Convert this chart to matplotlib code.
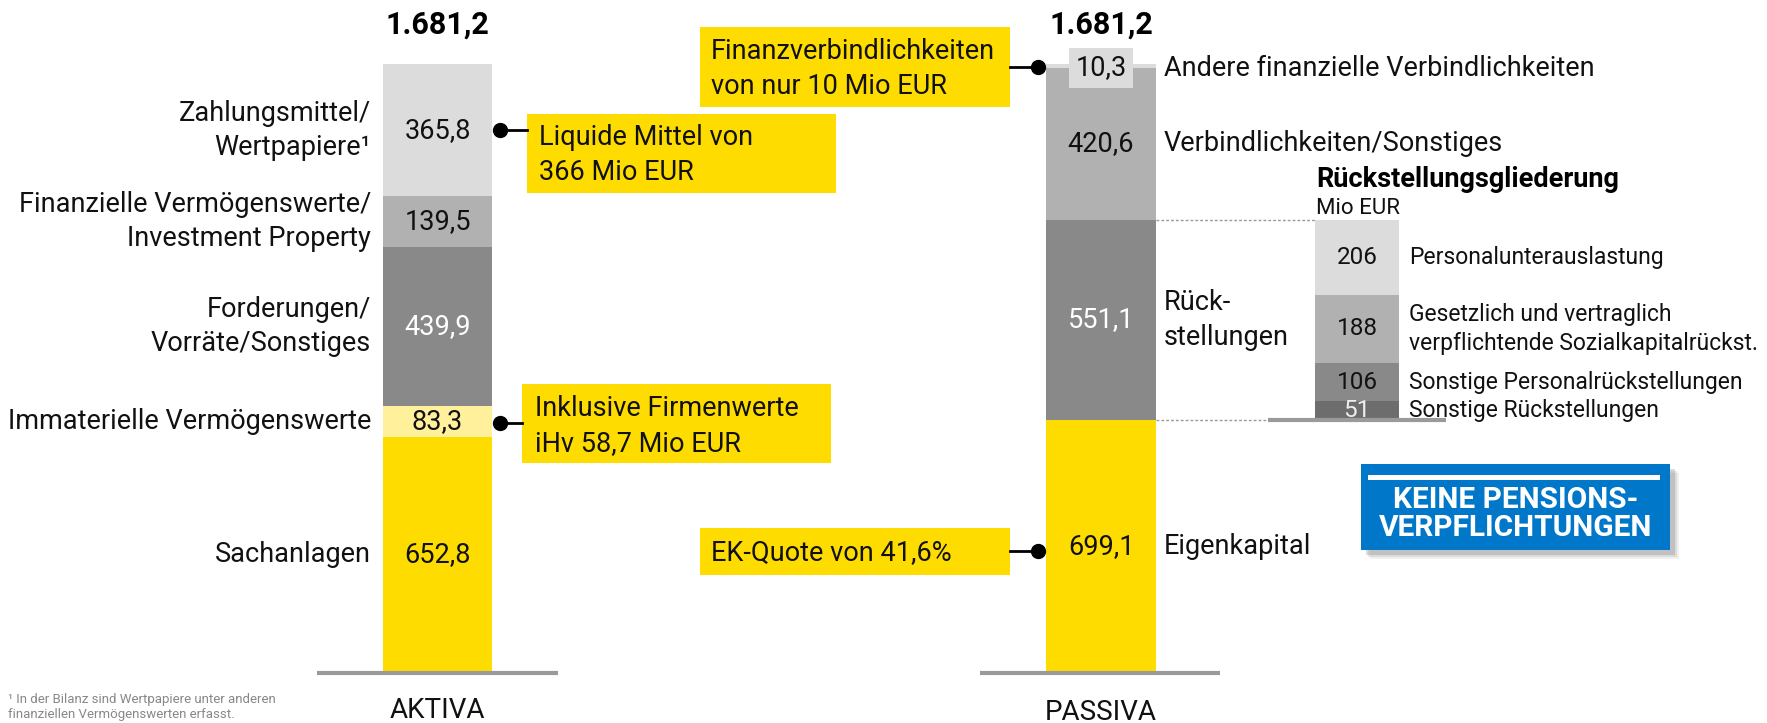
import matplotlib.pyplot as plt
from matplotlib.patches import Rectangle

plt.rcParams['font.family'] = ['Roboto', 'DejaVu Sans']

# Data (Mio EUR), stacked from bottom to top
balance_total = 1681.2
aktiva_labels = ['Sachanlagen', 'Immaterielle Vermögenswerte', 'Forderungen/\nVorräte/Sonstiges',
                 'Finanzielle Vermögenswerte/\nInvestment Property', 'Zahlungsmittel/\nWertpapiere¹']
aktiva_values = [652.8, 83.3, 439.9, 139.5, 365.8]
passiva_labels = ['Eigenkapital', 'Rück-\nstellungen', 'Verbindlichkeiten/Sonstiges',
                  'Andere finanzielle Verbindlichkeiten']
passiva_values = [699.1, 551.1, 420.6, 10.3]
rueck_labels = ['Sonstige Rückstellungen', 'Sonstige Personalrückstellungen',
                'Gesetzlich und vertraglich\nverpflichtende Sozialkapitalrückst.', 'Personalunterauslastung']
rueck_values = [51, 106, 188, 206]

YELLOW = '#ffdc00'
aktiva_colors = [YELLOW, '#fff09c', '#898989', '#b1b1b1', '#dcdcdc']
aktiva_txt = ['#111111', '#111111', 'white', '#111111', '#111111']
passiva_colors = [YELLOW, '#898989', '#b1b1b1', '#dcdcdc']
passiva_txt = ['#111111', 'white', '#111111', '#111111']
rueck_colors = ['#6d6d6d', '#898989', '#b1b1b1', '#dcdcdc']
rueck_txt = ['#eeeeee', '#111111', '#111111', '#111111']

FS = 19.5      # labels / callouts
FS_VAL = 19.5  # values in bars
LS = 1.35


def fmt(v, dec=1):
    s = f'{v:,.{dec}f}'
    return s.replace(',', 'X').replace('.', ',').replace('X', '.')


fig = plt.figure(figsize=(17.67, 7.23), dpi=100)
ax = fig.add_axes([0, 0, 1, 1])
ax.axis('off')

# pixel layout: baseline at y=673px, total at y=64px
base_px, top_px = 673, 64
k = (base_px - top_px) / balance_total
ax.set_xlim(0, 1767)
ax.set_ylim(-(723 - base_px) / k, base_px / k)


def yd(p):
    return (base_px - p) / k


def stack(x, w, values, colors, txtcols, fs, fmt_dec=1, skip_last=False):
    bottoms = []
    b = 0
    for v in values:
        bottoms.append(b)
        b += v
    ax.bar([x] * len(values), values, bottom=bottoms, width=w, color=colors, linewidth=0)
    for i, (v, b0) in enumerate(zip(values, bottoms)):
        if skip_last and i == len(values) - 1:
            continue
        ax.text(x, b0 + v / 2, fmt(v, fmt_dec), ha='center', va='center', fontsize=fs, color=txtcols[i])
    return bottoms


# AKTIVA
ax_x, pa_x, rk_x = 437.5, 1101, 1357
bot_a = stack(ax_x, 109, aktiva_values, aktiva_colors, aktiva_txt, FS_VAL)
for lab, v, b0 in zip(aktiva_labels, aktiva_values, bot_a):
    ax.text(371, b0 + v / 2, lab, ha='right', va='center', fontsize=FS, linespacing=LS, color='#111111')
ax.text(ax_x, yd(25), fmt(balance_total), ha='center', va='center', fontsize=22, fontweight='bold')
ax.plot([317, 558], [0, 0], color='#9a9a9a', lw=3, solid_capstyle='butt')
ax.text(ax_x, yd(710), 'AKTIVA', ha='center', va='center', fontsize=20, color='#111111')

# PASSIVA
bot_p = stack(pa_x, 110, passiva_values, passiva_colors, passiva_txt, FS_VAL, skip_last=True)
ax.text(pa_x, yd(68), fmt(passiva_values[-1]), ha='center', va='center', fontsize=FS_VAL, color='#111111',
        bbox=dict(boxstyle='square,pad=0.25', fc='#dcdcdc', ec='none'))
label_y = [b0 + v / 2 for v, b0 in zip(passiva_values, bot_p)]
label_y[-1] = yd(68)
for lab, y in zip(passiva_labels, label_y):
    ax.text(1164, y, lab, ha='left', va='center', fontsize=FS, linespacing=LS, color='#111111')
ax.text(pa_x, yd(25), fmt(balance_total), ha='center', va='center', fontsize=22, fontweight='bold')
ax.plot([980, 1220], [0, 0], color='#9a9a9a', lw=3, solid_capstyle='butt')
ax.text(pa_x, yd(712), 'PASSIVA', ha='center', va='center', fontsize=20, color='#111111')

# Rückstellungsgliederung, aligned with the Rückstellungen segment
r0 = passiva_values[0]
rb = r0
rbots = []
for v in rueck_values:
    rbots.append(rb)
    rb += v
ax.bar([rk_x] * len(rueck_values), rueck_values, bottom=rbots, width=84, color=rueck_colors, linewidth=0)
for v, b0, c, lab in zip(rueck_values, rbots, rueck_txt, rueck_labels):
    ax.text(rk_x, b0 + v / 2, fmt(v, 0), ha='center', va='center', fontsize=17.5, color=c)
    ax.text(1409, b0 + v / 2, lab, ha='left', va='center', fontsize=16.5, linespacing=1.3, color='#111111')
ax.plot([1268, 1446], [r0, r0], color='#9a9a9a', lw=3, solid_capstyle='butt')
ax.plot([pa_x + 55, 1315], [r0 + passiva_values[1]] * 2, color='#999999', lw=1, ls=(0, (2, 1.5)))
ax.plot([pa_x + 55, 1268], [r0, r0], color='#999999', lw=1, ls=(0, (2, 1.5)))
ax.text(1316, yd(180), 'Rückstellungsgliederung', ha='left', va='center', fontsize=19.5, fontweight='bold')
ax.text(1316, yd(209), 'Mio EUR', ha='left', va='center', fontsize=16, color='#111111')

# yellow callouts: (x0, x1, y0, y1) in px, text x, text y, dot x, dot y
callouts = [
    ((527, 836, 114, 193), 539, 155, 'Liquide Mittel von\n366 Mio EUR', 500, 130),
    ((522, 831, 384, 463), 535, 426, 'Inklusive Firmenwerte\niHv 58,7 Mio EUR', 500, 423),
    ((700, 1010, 27, 107), 711, 69, 'Finanzverbindlichkeiten\nvon nur 10 Mio EUR', 1038, 67),
    ((700, 1010, 528, 575), 711, 553, 'EK-Quote von 41,6%', 1038, 551),
]
for (x0, x1, y0, y1), tx, ty, txt, dx, dy in callouts:
    ax.add_patch(Rectangle((x0, yd(y1)), x1 - x0, yd(y0) - yd(y1), fc=YELLOW, ec='none', zorder=3))
    ax.text(tx, yd(ty), txt, ha='left', va='center', fontsize=FS, linespacing=LS, color='#111111', zorder=4)
    edge = x0 if dx < x0 else x1
    ax.plot([dx, edge], [yd(dy), yd(dy)], color='black', lw=2, zorder=4)
    ax.plot(dx, yd(dy), 'o', color='black', ms=10, zorder=5)

# blue box with shadow
bx0, bx1, by0, by1 = 1361, 1670, 464, 550
for off, a in [(9, 0.12), (7, 0.2), (5, 0.3)]:
    ax.add_patch(Rectangle((bx0 + off, yd(by1 + off)), bx1 - bx0, yd(by0) - yd(by1),
                           fc='#888888', ec='none', alpha=a, zorder=2))
ax.add_patch(Rectangle((bx0, yd(by1)), bx1 - bx0, yd(by0) - yd(by1), fc='#0077c8', ec='none', zorder=3))
ax.add_patch(Rectangle((1368, yd(480)), 292, yd(475) - yd(480), fc='white', ec='none', zorder=4))
ax.text((bx0 + bx1) / 2, yd(514), 'KEINE PENSIONS-\nVERPFLICHTUNGEN', ha='center', va='center',
        fontsize=21.5, fontweight='bold', color='white', linespacing=1.0, zorder=4)

# footnote
ax.text(8, yd(707), '¹ In der Bilanz sind Wertpapiere unter anderen\nfinanziellen Vermögenswerten erfasst.',
        ha='left', va='center', fontsize=9.5, color='#888888', linespacing=1.2)

plt.savefig('out.png', dpi=100)
